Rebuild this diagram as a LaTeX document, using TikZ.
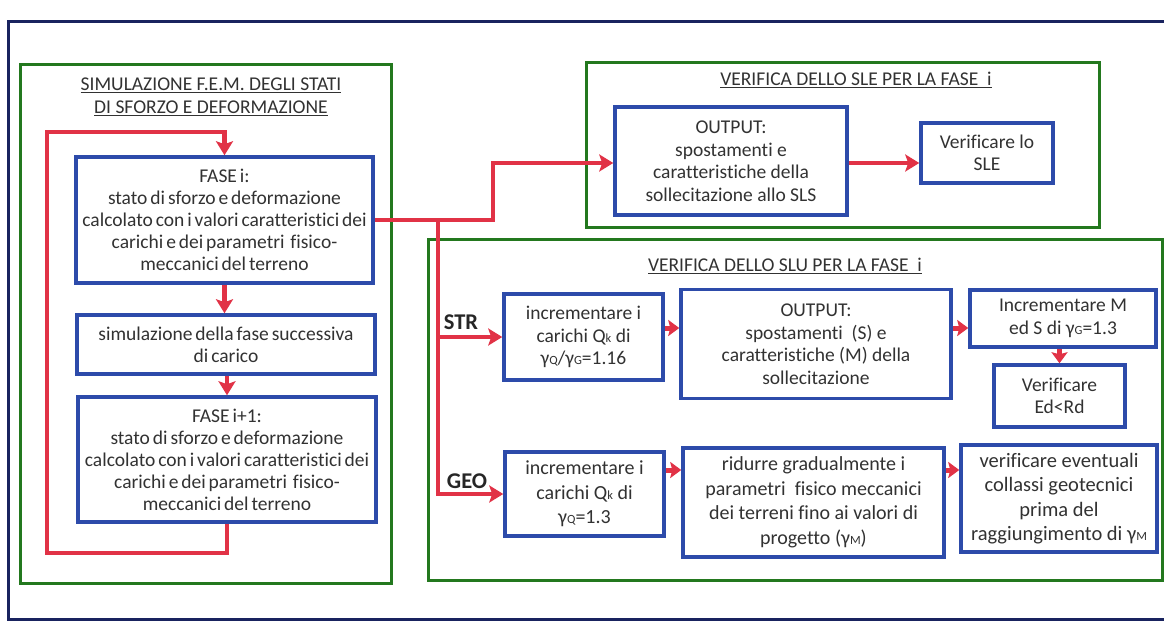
\documentclass[tikz,border=0pt]{standalone}
\usepackage{fontspec}
\setmainfont{Carlito}[Ligatures=NoCommon]
\usetikzlibrary{arrows.meta}
\definecolor{boxblue}{RGB}{45,75,170}
\definecolor{grpgreen}{RGB}{35,120,30}
\definecolor{arrred}{RGB}{225,50,70}
\definecolor{framenavy}{RGB}{25,35,95}
\definecolor{txtgray}{RGB}{50,50,50}
\newcommand{\smsub}[1]{{\fontsize{12.5}{12.5}\selectfont #1}}
\newcommand{\tightsp}{\spaceskip=0.15em plus 0.05em\relax}
\begin{document}
\begin{tikzpicture}[x=1pt,y=-1pt,
  bx/.style={draw=boxblue, line width=3.5pt, inner sep=2pt, align=center,
    font=\fontsize{19.5}{22.5}\selectfont, text=txtgray},
  tight/.style={font=\fontsize{19.5}{22}\selectfont\tightsp},
  georow/.style={font=\fontsize{20}{24.5}\selectfont},
  geobig/.style={font=\fontsize{20.5}{24.5}\selectfont},
  grp/.style={draw=grpgreen, line width=3pt, inner sep=0pt},
  ttl/.style={align=center, font=\fontsize{19.5}{23}\selectfont, text=txtgray},
  conn/.style={draw=arrred, line width=4.5pt},
  arr/.style={conn, -{Stealth[length=14pt,width=17pt,inset=3pt]}},
  sarr/.style={conn, line width=5pt, -{Stealth[length=11pt,width=16pt,inset=2pt]}},
  lbl/.style={font=\bfseries\fontsize{22.5}{24}\selectfont, text=black!85}
]
\useasboundingbox (0,0) rectangle (1164,627);
\fill[white] (0,0) rectangle (1164,627);
% outer frame
\draw[framenavy, line width=3pt] (1175,21) -- (8,21) -- (8,619) -- (1175,619);

% groups
\node[grp, minimum width=371pt, minimum height=519pt] (fem) at (205.5,323.5) {};
\node[grp, minimum width=513pt, minimum height=165pt] (sle) at (842.5,144.5) {};
\node[grp, minimum width=734pt, minimum height=341pt] (slu) at (795,409.5) {};

% titles
\node[ttl] (femttl) at (211,97) {\underline{SIMULAZIONE F.E.M. DEGLI STATI}\\\underline{DI SFORZO E DEFORMAZIONE}};
\node[ttl] (slettl) at (856,80) {\underline{VERIFICA DELLO SLE PER LA FASE\ \ i}};
\node[ttl] (sluttl) at (785,266) {\underline{VERIFICA DELLO SLU PER LA FASE\ \ i}};

% left column
\node[bx, tight, minimum width=297pt, minimum height=126pt] (fasei) at (224.5,220)
  {FASE i:\\stato di sforzo e deformazione\\calcolato con i valori caratteristici dei\\carichi e dei parametri\ \ fisico-\\meccanici del terreno};
\node[bx, tight, minimum width=298pt, minimum height=59pt] (simul) at (226,344.5)
  {simulazione della fase successiva\\di carico};
\node[bx, tight, minimum width=298pt, minimum height=125pt] (fasei1) at (227,459.5)
  {FASE i+1:\\stato di sforzo e deformazione\\calcolato con i valori caratteristici dei\\carichi e dei parametri\ \ fisico-\\meccanici del terreno};

% SLE
\node[bx, minimum width=232pt, minimum height=108pt] (sleout) at (731,161)
  {OUTPUT:\\spostamenti e\\caratteristiche della\\sollecitazione allo SLS};
\node[bx, minimum width=132pt, minimum height=60pt] (sleverif) at (987,153)
  {Verificare lo\\SLE};

% SLU - STR
\node[bx, minimum width=159pt, minimum height=86pt] (str1) at (583.5,337)
  {incrementare i\\carichi Q\smsub{k} di\\γ\smsub{Q}/γ\smsub{G}=1.16};
\node[bx, minimum width=270pt, minimum height=109pt] (strout) at (816,344)
  {OUTPUT:\\spostamenti\ \ (S) e\\caratteristiche (M) della\\sollecitazione};
\node[bx, minimum width=186pt, minimum height=57pt] (strinc) at (1063,318.5)
  {Incrementare M\\ed S di γ\smsub{G}=1.3};
\node[bx, minimum width=131pt, minimum height=62pt] (strver) at (1059.5,396)
  {Verificare\\Ed<Rd};

% SLU - GEO
\node[bx, georow, minimum width=159pt, minimum height=84pt] (geo1) at (584.5,494)
  {incrementare i\\carichi Q\smsub{k} di\\γ\smsub{Q}=1.3};
\node[bx, georow, minimum width=261pt, minimum height=109pt] (geo2) at (813.5,502.5)
  {ridurre gradualmente i\\parametri\ \ fisico meccanici\\dei terreni fino ai valori di\\progetto (γ\smsub{M})};
\node[bx, geobig, minimum width=196pt, minimum height=107pt] (geo3) at (1059,498.5)
  {verificare eventuali\\collassi geotecnici\\prima del\\raggiungimento di γ\smsub{M}};

% labels
\node[lbl] (strlbl) at (461,322) {STR};
\node[lbl] (geolbl) at (467,481) {GEO};

% connector coordinates
\coordinate (loopBL) at (47,553);
\coordinate (loopTL) at (47,132);
\coordinate (jA) at (438,220);
\coordinate (jB) at (493,220);
\coordinate (jC) at (493,163);
\coordinate (ys) at (0,328);
\coordinate (yg) at (0,470);

% left column arrows
\draw[arr] (fasei.south) -- (fasei.south |- simul.north);
\draw[arr] (simul.south -| fasei1.north) -- (fasei1.north);
\draw[arr] (fasei1.south) |- (loopBL) -- (loopTL) -| (fasei.north);

% trunk to SLE and SLU
\draw[arr] (fasei.east) -- (jB) -- (jC) -- (sleout.west |- jC);
\draw[arr] (sleout.east |- jC) -- (sleverif.west |- jC);
\draw[arr] (jA) |- (geo1.west);
\draw[arr] (jA |- str1.west) -- (str1.west);

% STR chain
\draw[sarr] (str1.east |- ys) -- (strout.west |- ys);
\draw[sarr] (strout.east |- ys) -- (strinc.west |- ys);
\draw[sarr] (strver.north |- strinc.south) -- (strver.north);

% GEO chain
\draw[sarr] (geo1.east |- yg) -- (geo2.west |- yg);
\draw[sarr] (geo2.east |- yg) -- (geo3.west |- yg);
\end{tikzpicture}
\end{document}
